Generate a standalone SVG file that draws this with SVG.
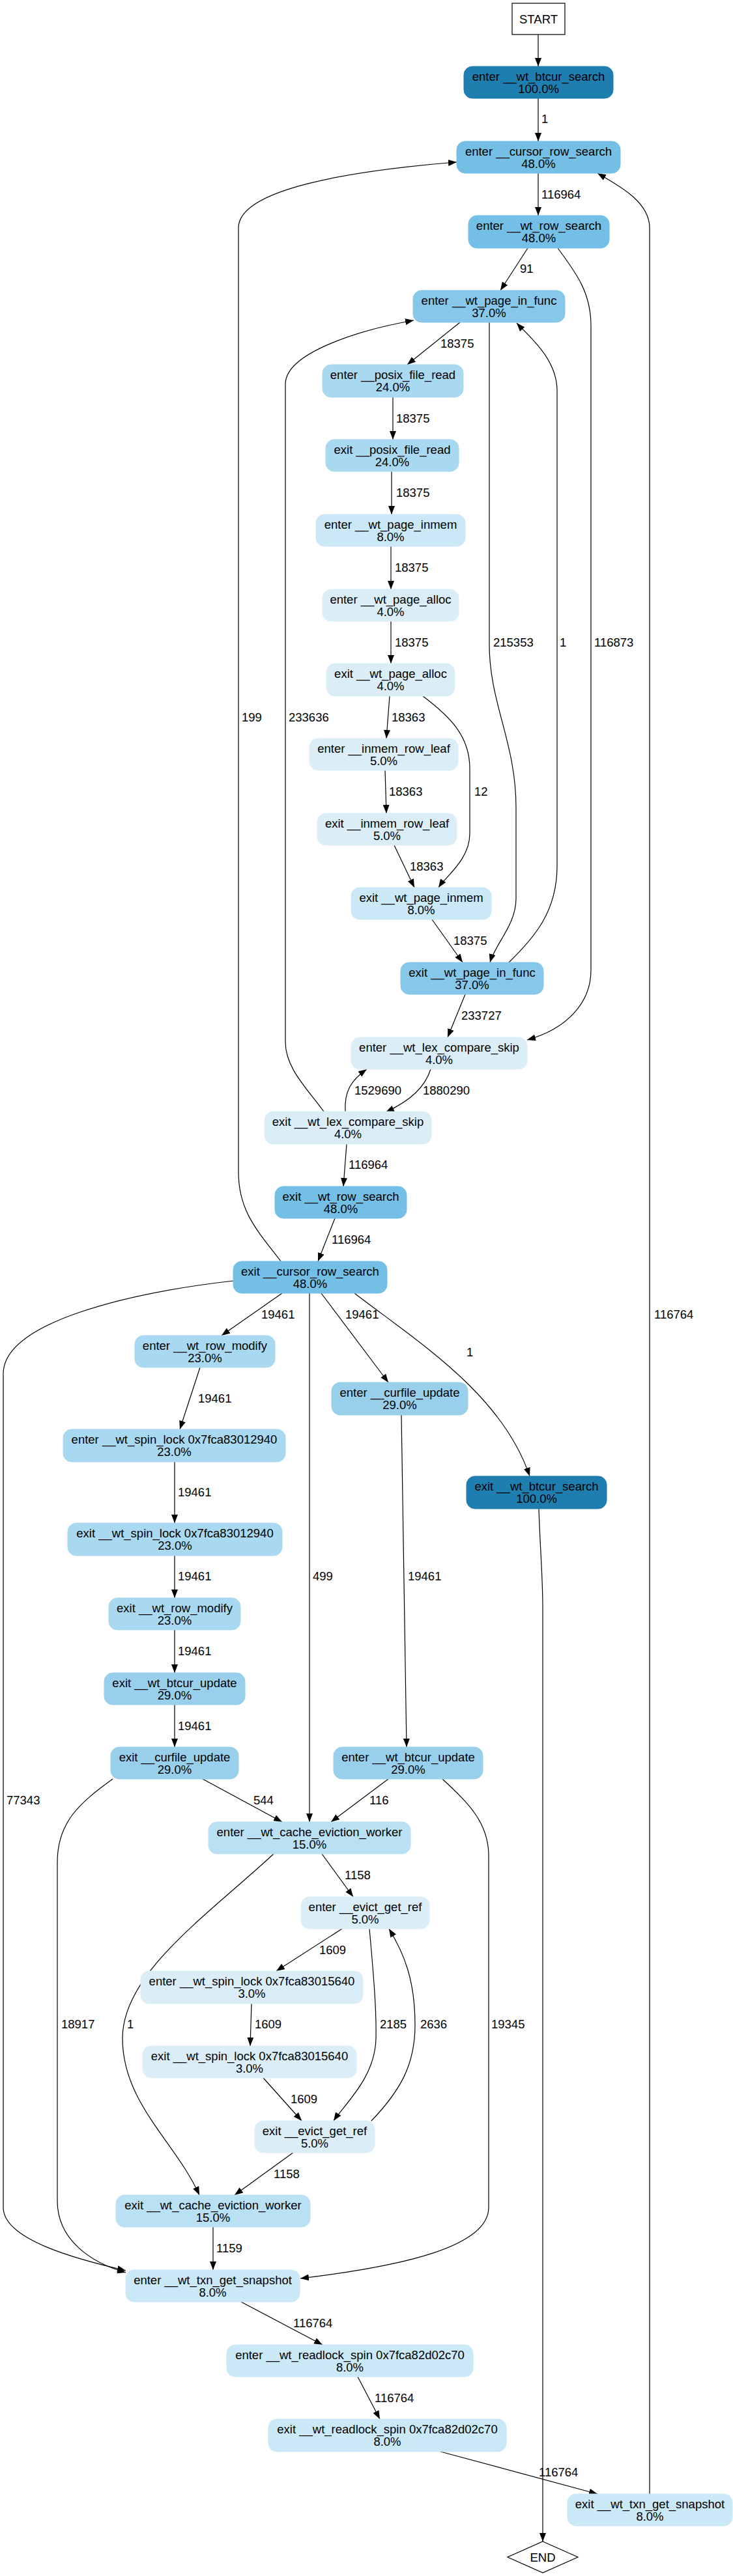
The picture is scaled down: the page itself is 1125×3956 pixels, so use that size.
<svg xmlns="http://www.w3.org/2000/svg" width="1125" height="3956" viewBox="0 0 1125 3956">
<defs>
<style>
text{font-family:"Liberation Sans",Arial,Helvetica,sans-serif;font-size:18.5px;fill:#000}
.nt{text-anchor:middle}
.n rect{stroke-width:1}
.c100{fill:#1f7eb0;stroke:#1f7eb0}
.c48{fill:#74bfe6;stroke:#74bfe6}
.c37{fill:#87c8ea;stroke:#87c8ea}
.c29{fill:#98d0ec;stroke:#98d0ec}
.c24{fill:#a9d9f0;stroke:#a9d9f0}
.c15{fill:#b9e1f3;stroke:#b9e1f3}
.c8{fill:#cae8f6;stroke:#cae8f6}
.c4{fill:#dbeef8;stroke:#dbeef8}
.e path{fill:none;stroke:#000;stroke-width:1.2;marker-end:url(#ah)}
</style>
<marker id="ah" viewBox="0 0 13 10" refX="13" refY="5" markerWidth="13" markerHeight="10" orient="auto" markerUnits="userSpaceOnUse"><path d="M0,0 L13,5 L0,10 z" fill="#000"/></marker>
</defs>
<rect width="1125" height="3956" fill="#fff"/>
<g id="edges" class="e">
<path d="M826,53 L826,102"/>
<path d="M826,151 L826,217"/>
<path d="M826,266 L826,331"/>
<path d="M810,381 L768,446"/>
<path d="M856,381 C885,420 907,450 907,500 L907,1490 C907,1540 870,1580 809,1597"/>
<path d="M706,495 L625,560"/>
<path d="M751,495 L751,990 C751,1080 792,1140 792,1240 L792,1380 C792,1420 760,1450 752,1478"/>
<path d="M781,1478 C820,1440 855,1400 855,1330 L855,600 C855,550 810,515 793,496"/>
<path d="M603,610 L603,675"/>
<path d="M601,724 L601,790"/>
<path d="M600,839 L600,905"/>
<path d="M600,954 L600,1019"/>
<path d="M598,1069 L593,1134"/>
<path d="M649,1069 C690,1100 721,1130 721,1180 L721,1280 C721,1320 685,1345 673,1363"/>
<path d="M591,1183 L593,1249"/>
<path d="M605,1298 L636,1363"/>
<path d="M663,1412 L710,1478"/>
<path d="M714,1527 L687,1593"/>
<path d="M497,1707 C470,1670 438,1640 438,1600 L438,590 C438,540 560,505 635,492"/>
<path d="M530,1707 C528,1675 540,1658 563,1642"/>
<path d="M661,1642 C652,1670 630,1690 592,1708"/>
<path d="M532,1757 L527,1822"/>
<path d="M514,1871 L488,1937"/>
<path d="M431,1937 C395,1890 366,1860 366,1800 L366,350 C366,290 540,262 701,249"/>
<path d="M433,1986 L340,2051"/>
<path d="M475,1986 L475,2798"/>
<path d="M493,1986 L596,2123"/>
<path d="M544,1986 C640,2060 770,2140 813,2267"/>
<path d="M358,1967 C200,1985 5,2030 5,2110 L5,3390 C5,3440 120,3470 193,3487"/>
<path d="M307,2100 L276,2195"/>
<path d="M268,2245 L268,2339"/>
<path d="M268,2389 L268,2454"/>
<path d="M268,2503 L268,2569"/>
<path d="M268,2618 L268,2683"/>
<path d="M616,2173 L624,2683"/>
<path d="M311,2732 L433,2798"/>
<path d="M173,2732 C120,2770 88,2800 88,2860 L88,3380 C88,3440 140,3475 193,3490"/>
<path d="M596,2732 L508,2798"/>
<path d="M679,2732 C720,2770 750,2800 750,2850 L750,3390 C750,3450 620,3480 461,3499"/>
<path d="M494,2847 L542,2913"/>
<path d="M420,2847 C320,2940 188,3030 188,3130 C188,3230 270,3290 306,3371"/>
<path d="M525,2962 L424,3027"/>
<path d="M386,3077 L384,3142"/>
<path d="M404,3191 L463,3257"/>
<path d="M567,2962 C572,3020 578,3080 577,3130 C576,3190 530,3230 512,3257"/>
<path d="M570,3257 C615,3210 637,3170 637,3110 C637,3040 620,3000 597,2962"/>
<path d="M451,3305 L360,3371"/>
<path d="M327,3420 L327,3486"/>
<path d="M370,3535 L495,3601"/>
<path d="M549,3650 L583,3715"/>
<path d="M676,3765 L917,3830"/>
<path d="M997,3830 L997,350 C997,310 950,285 917,266"/>
<path d="M827,2317 C829,2380 833,2420 833,2470 L833,3903"/>
</g>
<g id="edge-labels">
<text x="831" y="189">1</text>
<text x="831" y="305">116964</text>
<text x="798" y="419">91</text>
<text x="912" y="993">116873</text>
<text x="676" y="534">18375</text>
<text x="757" y="993">215353</text>
<text x="859" y="993">1</text>
<text x="608" y="649">18375</text>
<text x="608" y="763">18375</text>
<text x="606" y="878">18375</text>
<text x="606" y="993">18375</text>
<text x="601" y="1108">18363</text>
<text x="728" y="1222">12</text>
<text x="597" y="1222">18363</text>
<text x="629" y="1337">18363</text>
<text x="696" y="1451">18375</text>
<text x="708" y="1566">233727</text>
<text x="443" y="1108">233636</text>
<text x="544" y="1681">1529690</text>
<text x="649" y="1681">1880290</text>
<text x="535" y="1795">116964</text>
<text x="509" y="1910">116964</text>
<text x="371" y="1108">199</text>
<text x="401" y="2025">19461</text>
<text x="480" y="2427">499</text>
<text x="530" y="2025">19461</text>
<text x="716" y="2083">1</text>
<text x="10" y="2771">77343</text>
<text x="304" y="2154">19461</text>
<text x="273" y="2298">19461</text>
<text x="273" y="2427">19461</text>
<text x="273" y="2542">19461</text>
<text x="273" y="2657">19461</text>
<text x="626" y="2427">19461</text>
<text x="389" y="2771">544</text>
<text x="94" y="3115">18917</text>
<text x="567" y="2771">116</text>
<text x="754" y="3115">19345</text>
<text x="529" y="2886">1158</text>
<text x="195" y="3115">1</text>
<text x="490" y="3001">1609</text>
<text x="391" y="3115">1609</text>
<text x="446" y="3230">1609</text>
<text x="583" y="3115">2185</text>
<text x="645" y="3115">2636</text>
<text x="420" y="3345">1158</text>
<text x="332" y="3459">1159</text>
<text x="450" y="3574">116764</text>
<text x="575" y="3689">116764</text>
<text x="827" y="3803">116764</text>
<text x="1004" y="2025">116764</text>
</g>
<g id="start"><rect x="786" y="5" width="81" height="48" fill="#fff" stroke="#000" stroke-width="1.2"/><text class="nt" x="826.5" y="36">START</text></g>
<g id="end"><path d="M833,3903 L887,3927 L833,3951 L779,3927 Z" fill="#fff" stroke="#000" stroke-width="1.2"/><text class="nt" x="833" y="3934">END</text></g>
<g id="enter_wt_btcur_search" class="n"><rect class="c100" x="712" y="102" width="229" height="49" rx="13"/><text class="nt" x="826.5" y="123.5">enter __wt_btcur_search</text><text class="nt" x="826.5" y="142.5">100.0%</text></g>
<g id="enter_cursor_row_search" class="n"><rect class="c48" x="701" y="217" width="251" height="49" rx="13"/><text class="nt" x="826.5" y="238.5">enter __cursor_row_search</text><text class="nt" x="826.5" y="257.5">48.0%</text></g>
<g id="enter_wt_row_search" class="n"><rect class="c48" x="719" y="331" width="216" height="50" rx="13"/><text class="nt" x="827" y="353">enter __wt_row_search</text><text class="nt" x="827" y="372">48.0%</text></g>
<g id="enter_wt_page_in_func" class="n"><rect class="c37" x="634" y="446" width="233" height="49" rx="13"/><text class="nt" x="750.5" y="467.5">enter __wt_page_in_func</text><text class="nt" x="750.5" y="486.5">37.0%</text></g>
<g id="enter_posix_file_read" class="n"><rect class="c24" x="495" y="560" width="216" height="50" rx="13"/><text class="nt" x="603" y="582">enter __posix_file_read</text><text class="nt" x="603" y="601">24.0%</text></g>
<g id="exit_posix_file_read" class="n"><rect class="c24" x="500" y="675" width="204" height="49" rx="13"/><text class="nt" x="602" y="696.5">exit __posix_file_read</text><text class="nt" x="602" y="715.5">24.0%</text></g>
<g id="enter_wt_page_inmem" class="n"><rect class="c8" x="485" y="790" width="229" height="49" rx="13"/><text class="nt" x="599.5" y="811.5">enter __wt_page_inmem</text><text class="nt" x="599.5" y="830.5">8.0%</text></g>
<g id="enter_wt_page_alloc" class="n"><rect class="c4" x="495" y="905" width="209" height="49" rx="13"/><text class="nt" x="599.5" y="926.5">enter __wt_page_alloc</text><text class="nt" x="599.5" y="945.5">4.0%</text></g>
<g id="exit_wt_page_alloc" class="n"><rect class="c4" x="501" y="1019" width="197" height="50" rx="13"/><text class="nt" x="599.5" y="1041">exit __wt_page_alloc</text><text class="nt" x="599.5" y="1060">4.0%</text></g>
<g id="enter_inmem_row_leaf" class="n"><rect class="c4" x="475" y="1134" width="228" height="49" rx="13"/><text class="nt" x="589" y="1155.5">enter __inmem_row_leaf</text><text class="nt" x="589" y="1174.5">5.0%</text></g>
<g id="exit_inmem_row_leaf" class="n"><rect class="c4" x="487" y="1249" width="214" height="49" rx="13"/><text class="nt" x="594" y="1270.5">exit __inmem_row_leaf</text><text class="nt" x="594" y="1289.5">5.0%</text></g>
<g id="exit_wt_page_inmem" class="n"><rect class="c8" x="539" y="1363" width="215" height="49" rx="13"/><text class="nt" x="646.5" y="1384.5">exit __wt_page_inmem</text><text class="nt" x="646.5" y="1403.5">8.0%</text></g>
<g id="exit_wt_page_in_func" class="n"><rect class="c37" x="615" y="1478" width="219" height="49" rx="13"/><text class="nt" x="724.5" y="1499.5">exit __wt_page_in_func</text><text class="nt" x="724.5" y="1518.5">37.0%</text></g>
<g id="enter_wt_lex_compare_skip" class="n"><rect class="c4" x="539" y="1593" width="270" height="49" rx="13"/><text class="nt" x="674" y="1614.5">enter __wt_lex_compare_skip</text><text class="nt" x="674" y="1633.5">4.0%</text></g>
<g id="exit_wt_lex_compare_skip" class="n"><rect class="c4" x="406" y="1707" width="256" height="50" rx="13"/><text class="nt" x="534" y="1729">exit __wt_lex_compare_skip</text><text class="nt" x="534" y="1748">4.0%</text></g>
<g id="exit_wt_row_search" class="n"><rect class="c48" x="422" y="1822" width="202" height="49" rx="13"/><text class="nt" x="523" y="1843.5">exit __wt_row_search</text><text class="nt" x="523" y="1862.5">48.0%</text></g>
<g id="exit_cursor_row_search" class="n"><rect class="c48" x="358" y="1937" width="236" height="49" rx="13"/><text class="nt" x="476" y="1958.5">exit __cursor_row_search</text><text class="nt" x="476" y="1977.5">48.0%</text></g>
<g id="enter_wt_row_modify" class="n"><rect class="c24" x="207" y="2051" width="215" height="49" rx="13"/><text class="nt" x="314.5" y="2072.5">enter __wt_row_modify</text><text class="nt" x="314.5" y="2091.5">23.0%</text></g>
<g id="enter_curfile_update" class="n"><rect class="c29" x="509" y="2123" width="209" height="50" rx="13"/><text class="nt" x="613.5" y="2145">enter __curfile_update</text><text class="nt" x="613.5" y="2164">29.0%</text></g>
<g id="enter_wt_spin_lock_2940" class="n"><rect class="c24" x="97" y="2195" width="341" height="50" rx="13"/><text class="nt" x="267.5" y="2217">enter __wt_spin_lock 0x7fca83012940</text><text class="nt" x="267.5" y="2236">23.0%</text></g>
<g id="exit_wt_btcur_search" class="n"><rect class="c100" x="716" y="2267" width="215" height="50" rx="13"/><text class="nt" x="823.5" y="2289">exit __wt_btcur_search</text><text class="nt" x="823.5" y="2308">100.0%</text></g>
<g id="exit_wt_spin_lock_2940" class="n"><rect class="c24" x="104" y="2339" width="329" height="50" rx="13"/><text class="nt" x="268.5" y="2361">exit __wt_spin_lock 0x7fca83012940</text><text class="nt" x="268.5" y="2380">23.0%</text></g>
<g id="exit_wt_row_modify" class="n"><rect class="c24" x="167" y="2454" width="202" height="49" rx="13"/><text class="nt" x="268" y="2475.5">exit __wt_row_modify</text><text class="nt" x="268" y="2494.5">23.0%</text></g>
<g id="exit_wt_btcur_update" class="n"><rect class="c29" x="160" y="2569" width="216" height="49" rx="13"/><text class="nt" x="268" y="2590.5">exit __wt_btcur_update</text><text class="nt" x="268" y="2609.5">29.0%</text></g>
<g id="exit_curfile_update" class="n"><rect class="c29" x="170" y="2683" width="196" height="49" rx="13"/><text class="nt" x="268" y="2704.5">exit __curfile_update</text><text class="nt" x="268" y="2723.5">29.0%</text></g>
<g id="enter_wt_btcur_update" class="n"><rect class="c29" x="512" y="2683" width="229" height="49" rx="13"/><text class="nt" x="626.5" y="2704.5">enter __wt_btcur_update</text><text class="nt" x="626.5" y="2723.5">29.0%</text></g>
<g id="enter_wt_cache_eviction_worker" class="n"><rect class="c15" x="320" y="2798" width="310" height="49" rx="13"/><text class="nt" x="475" y="2819.5">enter __wt_cache_eviction_worker</text><text class="nt" x="475" y="2838.5">15.0%</text></g>
<g id="enter_evict_get_ref" class="n"><rect class="c4" x="462" y="2913" width="197" height="49" rx="13"/><text class="nt" x="560.5" y="2934.5">enter __evict_get_ref</text><text class="nt" x="560.5" y="2953.5">5.0%</text></g>
<g id="enter_wt_spin_lock_5640" class="n"><rect class="c4" x="216" y="3027" width="341" height="50" rx="13"/><text class="nt" x="386.5" y="3049">enter __wt_spin_lock 0x7fca83015640</text><text class="nt" x="386.5" y="3068">3.0%</text></g>
<g id="exit_wt_spin_lock_5640" class="n"><rect class="c4" x="219" y="3142" width="328" height="49" rx="13"/><text class="nt" x="383" y="3163.5">exit __wt_spin_lock 0x7fca83015640</text><text class="nt" x="383" y="3182.5">3.0%</text></g>
<g id="exit_evict_get_ref" class="n"><rect class="c4" x="391" y="3257" width="184" height="49" rx="13"/><text class="nt" x="483" y="3278.5">exit __evict_get_ref</text><text class="nt" x="483" y="3297.5">5.0%</text></g>
<g id="exit_wt_cache_eviction_worker" class="n"><rect class="c15" x="178" y="3371" width="298" height="49" rx="13"/><text class="nt" x="327" y="3392.5">exit __wt_cache_eviction_worker</text><text class="nt" x="327" y="3411.5">15.0%</text></g>
<g id="enter_wt_txn_get_snapshot" class="n"><rect class="c8" x="193" y="3486" width="267" height="49" rx="13"/><text class="nt" x="326.5" y="3507.5">enter __wt_txn_get_snapshot</text><text class="nt" x="326.5" y="3526.5">8.0%</text></g>
<g id="enter_wt_readlock_spin" class="n"><rect class="c8" x="348" y="3601" width="378" height="49" rx="13"/><text class="nt" x="537" y="3622.5">enter __wt_readlock_spin 0x7fca82d02c70</text><text class="nt" x="537" y="3641.5">8.0%</text></g>
<g id="exit_wt_readlock_spin" class="n"><rect class="c8" x="412" y="3715" width="365" height="50" rx="13"/><text class="nt" x="594.5" y="3737">exit __wt_readlock_spin 0x7fca82d02c70</text><text class="nt" x="594.5" y="3756">8.0%</text></g>
<g id="exit_wt_txn_get_snapshot" class="n"><rect class="c8" x="871" y="3830" width="253" height="49" rx="13"/><text class="nt" x="997.5" y="3851.5">exit __wt_txn_get_snapshot</text><text class="nt" x="997.5" y="3870.5">8.0%</text></g>
</svg>
